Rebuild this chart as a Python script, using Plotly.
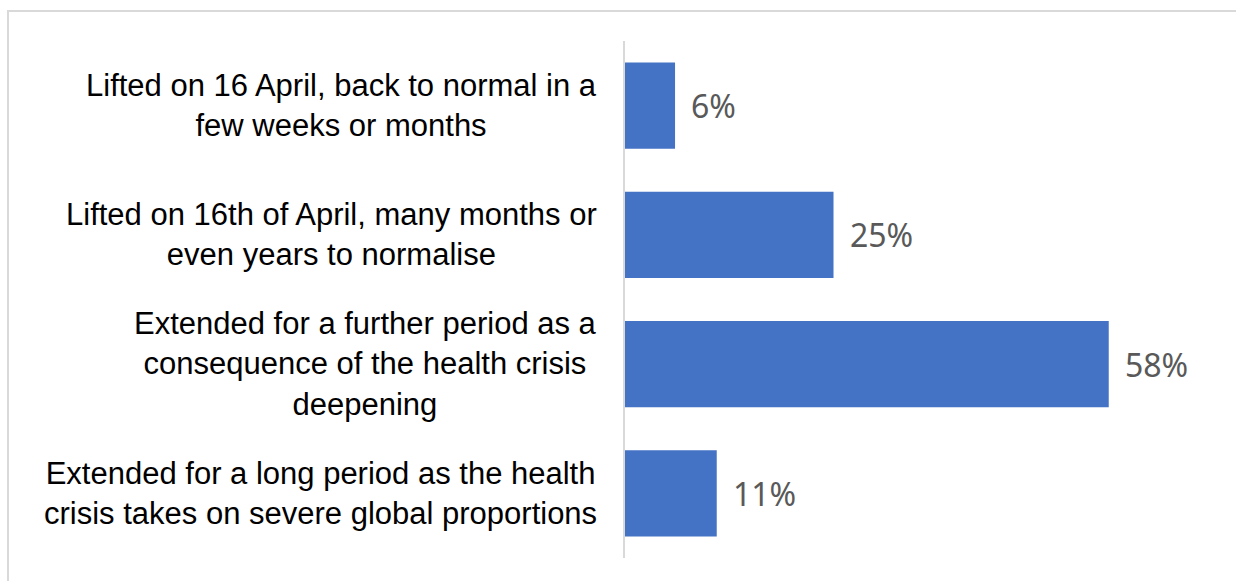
import plotly.graph_objects as go

categories = [
    "Lifted on 16 April, back to normal in a<br>few weeks or months",
    "Lifted on 16th of April, many months or<br>even years to normalise",
    "Extended for a further period as a<br>consequence of the health crisis<br>deepening",
    "Extended for a long period as the health<br>crisis takes on severe global proportions",
]
values = [6, 25, 58, 11]
value_labels = ["6%", "25%", "58%", "11%"]

BAR_COLOR = "#4472C4"
GRID_COLOR = "#D9D9D9"

fig = go.Figure(
    go.Bar(
        x=values,
        y=categories,
        orientation="h",
        marker=dict(color=BAR_COLOR, line=dict(width=0)),
        hoverinfo="skip",
    )
)

annotations = []
for cat, val, lab in zip(categories, values, value_labels):
    annotations.append(dict(
        x=0, xref="paper", y=cat, yref="y",
        xanchor="right", yanchor="middle", align="center",
        xshift=-26, text=cat, showarrow=False,
        font=dict(family="Liberation Sans, Arial", size=31, color="#000000"),
    ))
    annotations.append(dict(
        x=val, xref="x", y=cat, yref="y",
        xanchor="left", yanchor="middle", xshift=14,
        text=lab, showarrow=False,
        font=dict(family="Noto Sans, Open Sans", size=32, color="#595959"),
    ))

fig.update_layout(
    width=1236, height=581,
    margin=dict(l=625, r=21, t=41, b=23),
    paper_bgcolor="white", plot_bgcolor="white",
    bargap=0.334,
    showlegend=False,
    xaxis=dict(range=[0, 70.74], visible=False, fixedrange=True),
    yaxis=dict(
        autorange="reversed", showticklabels=False, ticks="",
        showline=True, linecolor=GRID_COLOR, linewidth=2,
        showgrid=False, zeroline=False, fixedrange=True,
    ),
    annotations=annotations,
    shapes=[dict(
        type="rect", xref="paper", yref="paper",
        x0=(8 - 625) / 590, x1=(1245 - 625) / 590,
        y0=(558 - 590) / 517, y1=(558 - 11) / 517,
        line=dict(color=GRID_COLOR, width=2), fillcolor="rgba(0,0,0,0)",
        layer="below",
    )],
)

fig.write_html("out.html", config={"displayModeBar": False})
